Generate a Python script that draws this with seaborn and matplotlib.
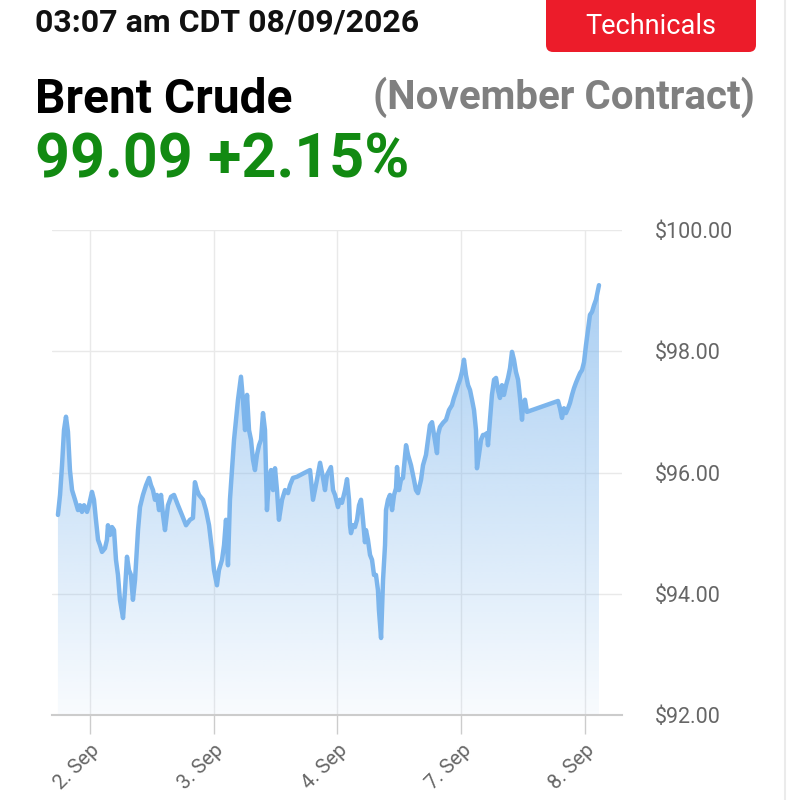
import numpy as np
import pandas as pd
import matplotlib
matplotlib.use('Agg')
import matplotlib.pyplot as plt
from matplotlib.patches import FancyBboxPatch
from matplotlib.lines import Line2D
import seaborn as sns

# ================================================
# Brent Crude (November contract) - intraday chart
# ================================================

# trading-day position (0 = 2. Sep, 1 = 3. Sep, 2 = 4. Sep, 3 = 7. Sep, 4 = 8. Sep)
day_pos = [
    -0.259, -0.242, -0.226, -0.210, -0.194, -0.178, -0.170, -0.162, -0.145, -0.121,
    -0.097, -0.081, -0.065, -0.048, -0.024, -0.008, 0.016, 0.032, 0.048, 0.065,
    0.081, 0.097, 0.121, 0.137, 0.145, 0.162, 0.178, 0.194, 0.210, 0.226,
    0.242, 0.267, 0.283, 0.299, 0.315, 0.331, 0.347, 0.364, 0.388, 0.404,
    0.428, 0.453, 0.477, 0.493, 0.509, 0.525, 0.541, 0.558, 0.574, 0.590,
    0.606, 0.630, 0.655, 0.679, 0.711, 0.743, 0.776, 0.808, 0.832, 0.848,
    0.865, 0.881, 0.913, 0.937, 0.962, 0.986, 1.002, 1.026, 1.042, 1.067,
    1.083, 1.099, 1.115, 1.131, 1.147, 1.164, 1.180, 1.196, 1.220, 1.236,
    1.253, 1.269, 1.285, 1.301, 1.317, 1.333, 1.349, 1.366, 1.382, 1.398,
    1.414, 1.430, 1.446, 1.463, 1.479, 1.495, 1.511, 1.527, 1.552, 1.576,
    1.600, 1.616, 1.640, 1.673, 1.729, 1.778, 1.802, 1.834, 1.859, 1.883,
    1.899, 1.915, 1.947, 1.964, 1.980, 2.004, 2.020, 2.036, 2.061, 2.077,
    2.093, 2.101, 2.109, 2.125, 2.141, 2.158, 2.174, 2.190, 2.206, 2.222,
    2.230, 2.246, 2.263, 2.279, 2.295, 2.311, 2.327, 2.335, 2.352, 2.368,
    2.384, 2.392, 2.408, 2.424, 2.441, 2.457, 2.473, 2.481, 2.497, 2.513,
    2.529, 2.554, 2.570, 2.594, 2.618, 2.634, 2.650, 2.675, 2.691, 2.715,
    2.731, 2.747, 2.764, 2.780, 2.804, 2.812, 2.828, 2.853, 2.877, 2.901,
    2.925, 2.941, 2.958, 2.974, 2.990, 3.006, 3.022, 3.038, 3.055, 3.071,
    3.087, 3.103, 3.119, 3.127, 3.143, 3.160, 3.176, 3.192, 3.208, 3.216,
    3.232, 3.248, 3.265, 3.281, 3.297, 3.313, 3.329, 3.345, 3.362, 3.378,
    3.394, 3.410, 3.426, 3.442, 3.459, 3.475, 3.491, 3.499, 3.515, 3.531,
    3.782, 3.798, 3.814, 3.830, 3.846, 3.863, 3.879, 3.895, 3.911, 3.927,
    3.943, 3.960, 3.976, 3.992, 4.008, 4.024, 4.040, 4.057, 4.073, 4.089,
    4.113,
]

price = [
    95.30, 95.63, 96.12, 96.70, 96.92, 96.67, 96.37, 96.04, 95.71, 95.55,
    95.38, 95.46, 95.35, 95.46, 95.35, 95.46, 95.68, 95.55, 95.22, 94.89,
    94.80, 94.69, 94.75, 94.89, 95.13, 94.97, 95.10, 95.05, 94.56, 94.31,
    93.90, 93.60, 94.06, 94.61, 94.39, 94.31, 93.90, 94.23, 95.05, 95.43,
    95.63, 95.79, 95.91, 95.79, 95.71, 95.55, 95.63, 95.38, 95.63, 95.30,
    95.05, 95.46, 95.60, 95.63, 95.46, 95.30, 95.13, 95.22, 95.25, 95.84,
    95.71, 95.63, 95.55, 95.38, 95.13, 94.72, 94.39, 94.14, 94.39, 94.56,
    94.80, 95.22, 94.47, 95.55, 96.04, 96.54, 96.87, 97.20, 97.58, 97.20,
    96.70, 97.28, 96.70, 96.54, 96.21, 96.04, 96.29, 96.45, 96.54, 96.98,
    96.70, 95.38, 95.88, 96.04, 95.71, 96.07, 95.71, 95.22, 95.55, 95.71,
    95.66, 95.79, 95.91, 95.93, 95.99, 96.04, 95.55, 95.88, 96.16, 95.91,
    95.71, 95.96, 96.09, 95.71, 95.63, 95.43, 95.55, 95.50, 95.71, 95.89,
    95.55, 95.13, 95.00, 95.13, 95.10, 95.22, 95.46, 95.55, 95.22, 94.85,
    95.05, 94.89, 94.64, 94.56, 94.31, 94.31, 94.06, 93.73, 93.27, 94.23,
    94.80, 95.38, 95.55, 95.63, 95.38, 95.63, 95.74, 96.09, 95.71, 95.88,
    95.91, 96.45, 96.29, 96.12, 95.88, 95.71, 95.66, 95.88, 96.12, 96.29,
    96.54, 96.78, 96.83, 96.62, 96.32, 96.62, 96.75, 96.82, 96.87, 97.03,
    97.11, 97.23, 97.33, 97.44, 97.53, 97.66, 97.86, 97.61, 97.44, 97.36,
    97.20, 97.03, 96.70, 96.07, 96.29, 96.54, 96.62, 96.62, 96.65, 96.45,
    96.87, 97.28, 97.53, 97.56, 97.36, 97.23, 97.44, 97.28, 97.44, 97.56,
    97.72, 97.99, 97.86, 97.66, 97.53, 97.23, 96.87, 97.11, 97.20, 97.00,
    97.18, 97.06, 96.90, 97.06, 96.98, 97.06, 97.15, 97.28, 97.39, 97.48,
    97.56, 97.64, 97.69, 97.82, 98.10, 98.35, 98.60, 98.65, 98.76, 98.85,
    99.09,
]

tick_pos = [0, 1, 2, 3, 4]
tick_labels = ['2. Sep', '3. Sep', '4. Sep', '7. Sep', '8. Sep']
y_ticks = [92, 94, 96, 98, 100]

df = pd.DataFrame({'DAY': day_pos, 'PRICE': price})

sns.set_theme(style='white')
plt.rcParams['font.family'] = ['Roboto', 'DejaVu Sans']

line_color = '#7cb5ec'
grid_color = '#e9e9e9'
label_color = '#666666'

fig = plt.figure(figsize=(7.89, 8.0), dpi=100)
fig.patch.set_facecolor('white')
ax = fig.add_axes([52 / 789, 1 - 715 / 800, 570 / 789, 485 / 800])

x_min, x_max = -0.307, 4.299
y_min, y_max = 92, 100

# gradient area under the line
fill = ax.fill_between(df['DAY'], df['PRICE'], y_min, color='none', lw=0)
grad = np.linspace(0.72, 0.05, 256).reshape(-1, 1)
rgba = np.zeros((256, 1, 4))
rgba[..., 0] = 124 / 255
rgba[..., 1] = 181 / 255
rgba[..., 2] = 236 / 255
rgba[..., 3] = grad
img = ax.imshow(rgba, extent=[x_min, x_max, y_min, y_max], aspect='auto',
                origin='upper', zorder=1, interpolation='bilinear')
img.set_clip_path(fill.get_paths()[0], transform=ax.transData)

sns.lineplot(data=df, x='DAY', y='PRICE', ax=ax, color=line_color,
             linewidth=3.2, zorder=3, solid_joinstyle='round')

ax.set_xlim(x_min, x_max)
ax.set_ylim(y_min, y_max)

# grid
for yv in y_ticks[1:]:
    ax.axhline(yv, color=grid_color, lw=1, zorder=0)
for xv in tick_pos:
    ax.axvline(xv, color=grid_color, lw=1, zorder=0)

for side in ['top', 'right', 'left']:
    ax.spines[side].set_visible(False)
ax.spines['bottom'].set_color('#cccccc')
ax.spines['bottom'].set_linewidth(1.5)
ax.spines['bottom'].set_zorder(4)

ax.set_xticks(tick_pos)
ax.set_xticklabels(tick_labels, rotation=45, ha='right', rotation_mode='anchor',
                   color=label_color, fontsize=14.5)
ax.tick_params(axis='x', length=14, width=1, color='#cccccc', pad=4,
               bottom=True)
ax.yaxis.tick_right()
ax.set_yticks(y_ticks)
ax.set_yticklabels([f'${v:.2f}' for v in y_ticks], color=label_color, fontsize=15.5)
ax.tick_params(axis='y', length=0, pad=24)
ax.set_xlabel('')
ax.set_ylabel('')

# header texts
fig.text(35 / 789, 1 - 23 / 800, '03:07 am CDT 08/09/2026', fontsize=23,
         fontweight='bold', color='#111111', va='center', ha='left')

btn = FancyBboxPatch((546 / 789, 1 - 52 / 800), 210 / 789, 62 / 800,
                     boxstyle='round,pad=0,rounding_size=0.009',
                     transform=fig.transFigure, facecolor='#ec1c2a',
                     edgecolor='none')
fig.patches.append(btn)
fig.text(651 / 789, 1 - 26 / 800, 'Technicals', fontsize=19.5, color='white',
         va='center', ha='center')

fig.text(35 / 789, 1 - 100 / 800, 'Brent Crude', fontsize=34.5,
         fontweight='bold', color='#000000', va='center', ha='left')
fig.text(755 / 789, 1 - 97 / 800, '(November Contract)', fontsize=29,
         fontweight='bold', color='#808080', va='center', ha='right')
fig.text(35 / 789, 1 - 161 / 800, '99.09 +2.15%', fontsize=44,
         fontweight='bold', color='#128a12', va='center', ha='left')

# faint card border on the right
fig.lines.append(Line2D([785 / 789, 785 / 789], [0, 1], transform=fig.transFigure,
                        color='#ebebeb', lw=1.5))

plt.savefig('out.png', dpi=100)
